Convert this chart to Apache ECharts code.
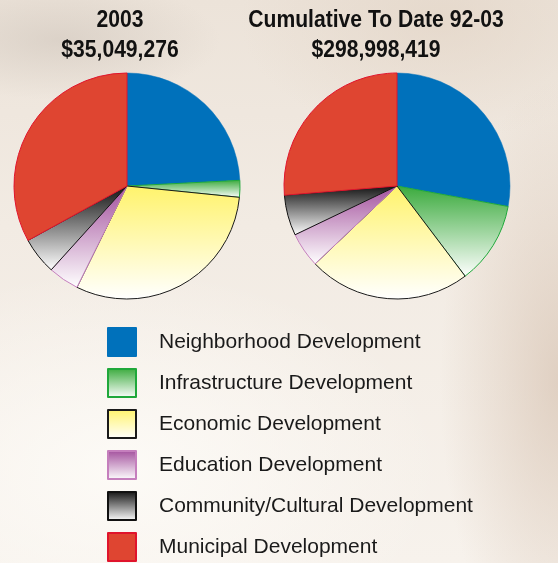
<!DOCTYPE html>
<html>
<head>
<meta charset="utf-8">
<script src="https://cdn.jsdelivr.net/npm/echarts@6/dist/echarts.min.js"></script>
<style>
html,body{margin:0;padding:0;width:558px;height:563px;overflow:hidden;}
body{
  background:
    radial-gradient(ellipse 160px 60px at 60px 40px, rgba(205,195,185,0.55), rgba(205,195,185,0) 100%),
    radial-gradient(ellipse 120px 300px at 560px 380px, rgba(215,195,178,0.7), rgba(215,195,178,0) 100%),
    radial-gradient(ellipse 200px 120px at 440px 20px, rgba(225,210,195,0.6), rgba(225,210,195,0) 100%),
    radial-gradient(ellipse 320px 200px at 120px 470px, rgba(253,251,247,0.95), rgba(253,251,247,0) 100%),
    linear-gradient(180deg, #ece3d9 0%, #f2ebe3 40%, #f7f2ec 100%);
}
#chart{width:558px;height:563px;}
</style>
</head>
<body>
<div id="chart"></div>
<script>
const categories = ['Neighborhood Development','Infrastructure Development','Economic Development','Education Development','Community/Cultural Development','Municipal Development'];
const values2003 = [24.2, 2.4, 30.7, 4.4, 5.3, 33.0];
const valuesCumulative = [27.9, 11.8, 23.2, 5.0, 5.8, 26.3];
const titleLeft = ['2003', '$35,049,276'];
const titleRight = ['Cumulative To Date 92-03', '$298,998,419'];

function grad(c){
  return {type:'linear', x:0, y:0, x2:0, y2:1, colorStops:[{offset:0,color:c},{offset:1,color:'#ffffff'}]};
}
const styles = [
  {color:'#0071bb', borderColor:'#0071bb', borderWidth:0.5},
  {color:grad('#3aaa3c'), borderColor:'#1fa83a', borderWidth:1},
  {color:grad('#fff36b'), borderColor:'#1a1a1a', borderWidth:1},
  {color:grad('#a24f9c'), borderColor:'#c57fbd', borderWidth:1},
  {color:grad('#111111'), borderColor:'#111111', borderWidth:1},
  {color:'#df4531', borderColor:'#e0142c', borderWidth:1}
];
function mk(vals){
  return vals.map((v,i)=>({name:categories[i], value:v, itemStyle:styles[i]}));
}
const chart = echarts.init(document.getElementById('chart'), null, {renderer:'canvas'});
const titleFont = 'bold 24px "Liberation Sans", Arial, sans-serif';
function t(x, y, s){
  return {type:'text', x:x, y:y, scaleX:0.88, style:{text:s, textAlign:'center', textVerticalAlign:'top', font:titleFont, fill:'#111'}};
}
chart.setOption({
  animation:false,
  backgroundColor:'transparent',
  graphic:[
    t(120, 8, titleLeft[0]),
    t(120, 38, titleLeft[1]),
    t(376, 8, titleRight[0]),
    t(376, 38, titleRight[1])
  ],
  legend:{
    orient:'vertical', left:107, top:327, padding:0, height:250,
    itemWidth:28, itemHeight:28, itemGap:11,
    icon:'rect',
    data:categories,
    selectedMode:false,
    textStyle:{fontFamily:'"Liberation Sans", Arial, sans-serif', fontSize:21, lineHeight:24, color:'#1a1a1a', padding:[0,0,0,18]}
  },
  series:[
    {type:'pie', radius:113, center:[127,186], startAngle:90, clockwise:true, label:{show:false}, labelLine:{show:false}, silent:true, data:mk(values2003)},
    {type:'pie', radius:113, center:[397,186], startAngle:90, clockwise:true, label:{show:false}, labelLine:{show:false}, silent:true, data:mk(valuesCumulative)}
  ]
});
</script>
</body>
</html>
